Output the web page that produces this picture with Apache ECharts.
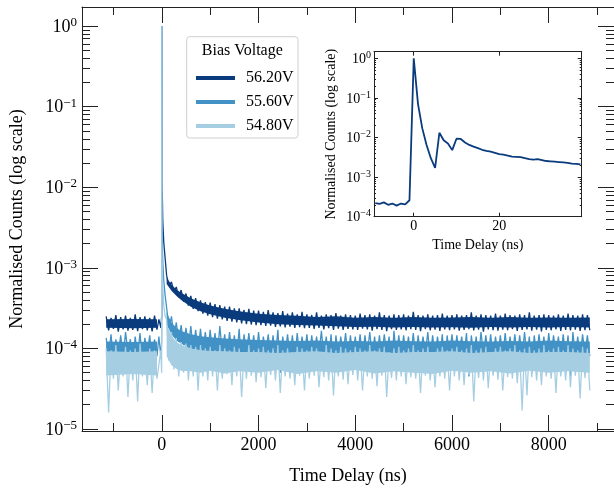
<!DOCTYPE html>
<html><head><meta charset="utf-8">
<script src="https://cdn.jsdelivr.net/npm/echarts@6/dist/echarts.min.js"></script>
<style>html,body{margin:0;padding:0;background:#fff}#c{width:614px;height:491px}</style>
</head><body><div id="c"></div>
<script>
// ---------------- DATA ----------------
const seriesNames = ['56.20V', '55.60V', '54.80V'];
const legendTitle = 'Bias Voltage';
const xTitle = 'Time Delay (ns)';
const yTitle = 'Normalised Counts (log scale)';

// tick values
const mainXMajor = [0, 2000, 4000, 6000, 8000];
const mainXMinor = [-1000, 1000, 3000, 5000, 7000, 9000];
const mainYMajor = [1e-5, 1e-4, 1e-3, 1e-2, 1e-1, 1];
const insetXMajor = [0, 20];
const insetYMajor = [1e-4, 1e-3, 1e-2, 1e-1, 1];

// Band values are given in units of 1e-4 (normalised counts)
const BAND_UNIT = 1e-4;

// Solid core of each noise band (where the trace fills the band completely)
const corePreT = [-1150, -600, -100];
const corePostT = [100, 200, 300, 400, 600, 800, 1000, 1300, 1600, 2000, 2400, 2800, 3200, 3600,
 4000, 4400, 4800, 5200, 5600, 6000, 6400, 6800, 7200, 7600, 8000, 8400, 8850];
const coreHiPre562 = [2.3, 2.32, 2.3];
const coreLoPre562 = [1.8, 1.78, 1.8];
const coreHiPost562 = [7.5, 6.2, 5.4, 4.9, 4.2, 3.75, 3.4, 3.1, 2.9, 2.7, 2.6, 2.55, 2.45, 2.5,
 2.4, 2.45, 2.4, 2.45, 2.4, 2.42, 2.45, 2.4, 2.45, 2.4, 2.42, 2.4, 2.42];
const coreLoPost562 = [6.3, 5.2, 4.5, 4.0, 3.3, 2.9, 2.65, 2.4, 2.25, 2.1, 2.0, 1.95, 1.92, 1.88,
 1.85, 1.86, 1.82, 1.84, 1.82, 1.83, 1.8, 1.84, 1.82, 1.85, 1.82, 1.84, 1.82];
const coreHiPre556 = [1.22, 1.2, 1.22];
const coreLoPre556 = [0.85, 0.85, 0.85];
const coreHiPost556 = [2.8, 2.1, 1.8, 1.65, 1.5, 1.42, 1.38, 1.33, 1.3, 1.27, 1.25, 1.24, 1.25, 1.22,
 1.24, 1.22, 1.25, 1.23, 1.22, 1.25, 1.23, 1.22, 1.24, 1.22, 1.25, 1.23, 1.22];
const coreLoPost556 = [2.0, 1.5, 1.25, 1.15, 1.0, 0.95, 0.9, 0.85, 0.85, 0.85, 0.85, 0.85, 0.85, 0.85,
 0.85, 0.85, 0.85, 0.85, 0.85, 0.85, 0.85, 0.85, 0.85, 0.85, 0.85, 0.85, 0.85];
const coreHiPre548 = [0.92, 0.9, 0.92];
const coreLoPre548 = [0.46, 0.48, 0.46];
const coreHiPost548 = [2.0, 1.45, 1.2, 1.1, 1.0, 0.95, 0.93, 0.92, 0.9, 0.9, 0.88, 0.9, 0.92, 0.88,
 0.9, 0.92, 0.88, 0.9, 0.9, 0.92, 0.88, 0.9, 0.92, 0.88, 0.9, 0.9, 0.88];
const coreLoPost548 = [0.8, 0.62, 0.56, 0.53, 0.52, 0.5, 0.53, 0.49, 0.52, 0.5, 0.54, 0.48, 0.52, 0.5,
 0.54, 0.49, 0.52, 0.5, 0.48, 0.53, 0.5, 0.52, 0.49, 0.53, 0.5, 0.52, 0.5];

// Noise extremes: each sample gives an upper value at t and a lower value at t+50 ns
const preT = [-1150, -1050, -950, -850, -750, -650, -550, -450, -350, -250, -150];
// 56.20V
const hiPre562 = [2.5,2.4,2.6,2.45,2.55,2.4,2.65,2.45,2.5,2.4,2.55];
const loPre562 = [1.68,1.75,1.62,1.72,1.66,1.7,1.64,1.74,1.68,1.63,1.71];
const hiPost562 = [8.0,6.7,5.8,5.3,4.8,4.5,4.2,3.95,3.75,
 3.7,3.55,3.45,3.3,3.3,3.15,3.15,3.0,3.1,2.95,
 2.95,2.85,3.0,2.8,2.75,2.9,2.7,2.8,2.65,2.85,
 2.65,2.6,2.8,2.55,2.65,2.6,2.75,2.55,2.65,2.6,
 2.55,2.7,2.6,2.65,2.55,2.8,2.6,2.55,2.65,2.6,
 2.65,2.55,2.85,2.6,2.55,2.65,2.55,2.6,2.7,2.55,
 2.6,2.65,2.55,2.6,2.8,2.55,2.65,2.6,2.55,2.7,
 2.55,2.7,2.6,2.55,2.65,2.6,2.8,2.55,2.6,2.65,
 2.6,2.55,2.65,2.55,2.7,2.6,2.55,2.65,2.6];
const loPost562 = [6.0,5.0,4.3,3.8,3.4,3.1,2.9,2.7,2.55,
 2.45,2.35,2.3,2.2,2.15,2.1,2.05,2.0,1.98,1.95,
 1.95,1.9,1.92,1.85,1.88,1.82,1.86,1.8,1.84,1.78,
 1.8,1.75,1.8,1.72,1.78,1.7,1.76,1.7,1.75,1.72,
 1.7,1.76,1.72,1.66,1.74,1.7,1.64,1.74,1.7,1.72,
 1.68,1.73,1.7,1.64,1.74,1.68,1.71,1.65,1.72,1.69,
 1.72,1.66,1.7,1.74,1.67,1.71,1.62,1.72,1.69,1.66,
 1.71,1.68,1.73,1.65,1.7,1.72,1.66,1.71,1.63,1.7,
 1.68,1.72,1.65,1.7,1.67,1.71,1.65,1.69,1.68];
// 55.60V
const hiPre556 = [1.35,1.5,1.3,1.45,1.6,1.3,1.4,1.55,1.35,1.45,1.3];
const loPre556 = [0.8,0.7,0.85,0.75,0.9,0.7,0.8,0.65,0.85,0.75,0.8];
const hiPost556 = [3.2,2.5,2.1,1.95,1.8,1.9,1.7,1.75,1.6,
 1.7,1.55,1.9,1.5,1.6,1.45,1.75,1.5,1.55,1.45,
 1.6,1.4,1.5,1.45,1.7,1.4,1.5,1.45,1.55,1.4,
 1.5,1.45,1.4,1.65,1.4,1.5,1.45,1.4,1.55,1.45,
 1.4,1.5,1.45,1.6,1.4,1.45,1.5,1.4,1.65,1.45,
 1.45,1.4,1.55,1.45,1.4,1.6,1.45,1.4,1.5,1.45,
 1.5,1.45,1.4,1.55,1.45,1.4,1.6,1.45,1.5,1.4,
 1.45,1.55,1.4,1.5,1.45,1.6,1.4,1.45,1.5,1.4,
 1.55,1.45,1.4,1.5,1.45,1.6,1.4,1.5,1.45];
const loPost556 = [1.8,1.4,1.2,1.1,1.0,0.95,0.9,0.9,0.85,
 0.85,0.8,0.9,0.75,0.85,0.8,0.55,0.85,0.8,0.75,
 0.8,0.85,0.75,0.8,0.5,0.85,0.8,0.75,0.8,0.85,
 0.75,0.8,0.85,0.8,0.75,0.55,0.8,0.85,0.75,0.8,
 0.8,0.75,0.85,0.8,0.75,0.8,0.85,0.5,0.8,0.75,
 0.85,0.8,0.75,0.8,0.85,0.75,0.8,0.8,0.55,0.8,
 0.75,0.85,0.8,0.45,0.8,0.75,0.85,0.8,0.75,0.8,
 0.8,0.75,0.85,0.8,0.75,0.8,0.5,0.85,0.8,0.75,
 0.8,0.85,0.75,0.8,0.45,0.8,0.75,0.85,0.8];
// 54.80V
const hiPre548 = [1.0,0.95,1.1,0.9,1.05,0.95,1.0,1.15,0.9,1.0,0.95];
const loPre548 = [0.16,0.42,0.3,0.45,0.25,0.4,0.22,0.45,0.35,0.28,0.42];
const hiPost548 = [2.3,1.6,1.35,1.2,1.15,1.1,1.05,1.1,1.0,
 1.05,0.95,1.1,1.0,0.95,1.05,1.0,0.9,1.1,0.95,
 1.0,1.05,0.95,1.0,1.1,0.95,1.0,0.9,1.05,1.0,
 0.95,1.05,1.0,0.9,1.1,1.0,0.95,1.05,1.0,0.95,
 1.05,1.0,0.95,1.1,0.95,1.0,1.05,0.9,1.0,1.05,
 0.95,1.0,1.1,0.95,1.0,1.05,0.9,1.0,1.05,0.95,
 1.0,1.05,0.95,1.0,1.1,0.95,1.0,1.05,0.9,1.0,
 1.05,0.95,1.0,1.1,0.95,1.0,1.05,0.95,1.0,1.1,
 0.95,1.0,1.05,0.95,1.1,1.0,0.95,1.05,1.0];
const loPost548 = [0.7,0.55,0.45,0.5,0.4,0.45,0.3,0.45,0.4,
 0.45,0.3,0.42,0.48,0.35,0.45,0.25,0.42,0.46,0.38,
 0.44,0.32,0.47,0.4,0.28,0.45,0.42,0.35,0.46,0.3,
 0.42,0.46,0.33,0.44,0.4,0.26,0.45,0.41,0.36,0.47,
 0.4,0.3,0.45,0.42,0.34,0.46,0.25,0.43,0.4,0.45,
 0.36,0.44,0.42,0.28,0.46,0.4,0.33,0.45,0.42,0.3,
 0.45,0.4,0.35,0.47,0.22,0.43,0.4,0.32,0.46,0.41,
 0.3,0.44,0.42,0.37,0.17,0.26,0.44,0.4,0.35,0.45,
 0.42,0.28,0.45,0.4,0.33,0.46,0.24,0.43,0.3];

// around the laser pulse (absolute normalised counts)
const peakT = [-60, -20, -3, 0, 2, 5, 10, 20, 40, 70];
const peak562 = [2.3e-4, 1.8e-4, 2.5e-4, 1.0, 1.6e-2, 1.7e-3, 9e-3, 3.8e-3, 2.1e-3, 1.3e-3];
const peak556 = [1.4e-4, 0.8e-4, 1.2e-4, 1.0, 1.2e-2, 3e-3, 2e-3, 1.2e-3, 7e-4, 4.5e-4];
const peak548 = [0.4e-4, 0.95e-4, 0.5e-4, 1.0, 8e-3, 1.5e-3, 1e-3, 6e-4, 3.5e-4, 2.5e-4];

// inset: 56.20V, 1 ns bins
const insetT = [-9,-8,-7,-6,-5,-4,-3,-2,-1,0,1,2,3,4,5,6,7,8,9,10,11,12,13,14,15,16,17,18,19,20,
 21,22,23,24,25,26,27,28,29,30,31,32,33,34,35,36,37,38,39];
const inset562 = [2.2e-4,2.1e-4,2.3e-4,2.0e-4,2.15e-4,1.9e-4,2.15e-4,2.05e-4,2.6e-4,1.0,
 7.0e-2,1.7e-2,6.5e-3,3.0e-3,1.7e-3,1.32e-2,8.5e-3,7.1e-3,4.8e-3,9.3e-3,
 9.2e-3,7.5e-3,6.5e-3,5.9e-3,5.4e-3,4.9e-3,4.6e-3,4.4e-3,4.1e-3,3.8e-3,
 3.7e-3,3.5e-3,3.3e-3,3.25e-3,3.2e-3,3.0e-3,2.85e-3,2.75e-3,2.85e-3,2.7e-3,
 2.55e-3,2.5e-3,2.45e-3,2.4e-3,2.35e-3,2.3e-3,2.2e-3,2.15e-3,2.1e-3];

// ---------------- BUILD ----------------
const colors = ['#0a3b7d', '#4292c6', '#a6cee3'];
const FONT = "'Liberation Serif', 'Times New Roman', serif";
const AX = '#222';

const postT = [];
for (let t = 100; t <= 8800; t += 100) postT.push(t);

function band(hiPre, loPre, pk, hiPost, loPost) {
  const d = [];
  preT.forEach((t, i) => { d.push([t, hiPre[i] * BAND_UNIT]); d.push([t + 50, loPre[i] * BAND_UNIT]); });
  peakT.forEach((t, i) => d.push([t, pk[i]]));
  postT.forEach((t, i) => { d.push([t, hiPost[i] * BAND_UNIT]); d.push([t + 50, loPost[i] * BAND_UNIT]); });
  return d;
}
const lines = [
  band(hiPre562, loPre562, peak562, hiPost562, loPost562),
  band(hiPre556, loPre556, peak556, hiPost556, loPost556),
  band(hiPre548, loPre548, peak548, hiPost548, loPost548)
];
const cores = [
  [coreHiPre562, coreLoPre562, coreHiPost562, coreLoPost562],
  [coreHiPre556, coreLoPre556, coreHiPost556, coreLoPost556],
  [coreHiPre548, coreLoPre548, coreHiPost548, coreLoPost548]
];

function minorLog(lo, hi) {
  const v = [];
  for (let e = lo; e <= hi; e++) for (let k = 2; k <= 9; k++) v.push(k * Math.pow(10, e));
  return v;
}
function supLabel(v) {
  const e = Math.round(Math.log10(v));
  return '{b|10}{s|' + (e < 0 ? '\u2212' + (-e) : String(e)) + '}';
}
function rich(bs, ss) {
  return {
    b: { fontSize: bs, fontFamily: FONT, color: '#000', lineHeight: bs + 2, padding: [Math.round(bs * 0.33), 0, 0, 0], verticalAlign: 'bottom' },
    s: { fontSize: ss, fontFamily: FONT, color: '#000', lineHeight: Math.round(bs * 0.9), verticalAlign: 'top' }
  };
}
function axisBase(o) {
  const base = { splitLine: { show: false }, axisTick: { show: false }, axisLabel: { show: false }, silent: true };
  const r = Object.assign(base, o);
  r.axisLine = Object.assign({ show: false, lineStyle: { color: AX, width: 1 } }, o.axisLine || {}, { onZero: false });
  return r;
}
function tick(len, vals) {
  return { show: true, inside: true, length: len, customValues: vals, lineStyle: { color: AX, width: 1 } };
}
const plainNum = v => String(v);

const XMIN = -1650, XMAX = 9350, YMIN = 0.944e-5, YMAX = 1.73;
const IXMIN = -9.3, IXMAX = 39.3, IYMIN = 1e-4, IYMAX = 1.47;

const xAxes = [
  axisBase({ gridIndex: 0, type: 'value', position: 'bottom', min: XMIN, max: XMAX,
    axisLine: { show: true }, axisTick: tick(16, mainXMajor),
    axisLabel: { show: true, customValues: mainXMajor, margin: 5, fontSize: 18, fontFamily: FONT, color: '#000', formatter: plainNum },
    name: xTitle, nameLocation: 'middle', nameGap: 36, nameTextStyle: { fontSize: 18, fontFamily: FONT, color: '#000' } }),
  axisBase({ gridIndex: 0, type: 'value', position: 'bottom', min: XMIN, max: XMAX, axisTick: tick(8, mainXMinor) }),
  axisBase({ gridIndex: 0, type: 'value', position: 'top', min: XMIN, max: XMAX, axisLine: { show: true }, axisTick: tick(16, mainXMajor) }),
  axisBase({ gridIndex: 0, type: 'value', position: 'top', min: XMIN, max: XMAX, axisTick: tick(8, mainXMinor) }),
  axisBase({ gridIndex: 1, type: 'value', position: 'bottom', min: IXMIN, max: IXMAX,
    axisLine: { show: true }, axisTick: tick(4, insetXMajor),
    axisLabel: { show: true, customValues: insetXMajor, margin: 3, fontSize: 14, fontFamily: FONT, color: '#000', formatter: plainNum },
    name: xTitle, nameLocation: 'middle', nameGap: 22, nameTextStyle: { fontSize: 14, fontFamily: FONT, color: '#000' } }),
  axisBase({ gridIndex: 1, type: 'value', position: 'top', min: IXMIN, max: IXMAX, axisLine: { show: true }, axisTick: tick(4, insetXMajor) })
];
const yAxes = [
  axisBase({ gridIndex: 0, type: 'log', position: 'left', min: YMIN, max: YMAX,
    axisLine: { show: true }, axisTick: tick(16, mainYMajor),
    axisLabel: { show: true, customValues: mainYMajor, margin: 5, formatter: supLabel, rich: rich(18, 13) },
    name: yTitle, nameLocation: 'middle', nameGap: 56, nameTextStyle: { fontSize: 18, fontFamily: FONT, color: '#000' } }),
  axisBase({ gridIndex: 0, type: 'log', position: 'left', min: YMIN, max: YMAX, axisTick: tick(8, minorLog(-5, -1)) }),
  axisBase({ gridIndex: 0, type: 'log', position: 'right', min: YMIN, max: YMAX, axisTick: tick(16, mainYMajor) }),
  axisBase({ gridIndex: 0, type: 'log', position: 'right', min: YMIN, max: YMAX, axisTick: tick(8, minorLog(-5, -1)) }),
  axisBase({ gridIndex: 1, type: 'log', position: 'left', min: IYMIN, max: IYMAX,
    axisLine: { show: true }, axisTick: tick(4, insetYMajor),
    axisLabel: { show: true, customValues: insetYMajor, margin: 3, formatter: supLabel, rich: rich(14, 10) },
    name: yTitle, nameLocation: 'middle', nameGap: 36, nameTextStyle: { fontSize: 14, fontFamily: FONT, color: '#000' } }),
  axisBase({ gridIndex: 1, type: 'log', position: 'left', min: IYMIN, max: IYMAX, axisTick: tick(2, minorLog(-4, -1)) }),
  axisBase({ gridIndex: 1, type: 'log', position: 'right', min: IYMIN, max: IYMAX, axisLine: { show: true }, axisTick: tick(4, insetYMajor) }),
  axisBase({ gridIndex: 1, type: 'log', position: 'right', min: IYMIN, max: IYMAX, axisTick: tick(2, minorLog(-4, -1)) })
];

function corePolygon(api, tArr, hiArr, loArr) {
  const pts = [];
  tArr.forEach((t, i) => pts.push(api.coord([t, hiArr[i] * BAND_UNIT])));
  for (let i = tArr.length - 1; i >= 0; i--) pts.push(api.coord([tArr[i], loArr[i] * BAND_UNIT]));
  return pts;
}

const series = [];
lines.forEach((d, i) => {
  const c = cores[i];
  series.push({
    type: 'custom', name: 'core' + i, xAxisIndex: 0, yAxisIndex: 0, silent: true, animation: false,
    clip: true, z: 2 + 2 * i,
    data: [[0, 1e-4]],
    encode: { x: 0, y: 1 },
    renderItem: (params, api) => ({
      type: 'group',
      children: [
        { type: 'polygon', shape: { points: corePolygon(api, corePreT, c[0], c[1]) }, style: { fill: colors[i] } },
        { type: 'polygon', shape: { points: corePolygon(api, corePostT, c[2], c[3]) }, style: { fill: colors[i] } }
      ]
    })
  });
  series.push({
    type: 'line', name: seriesNames[i], xAxisIndex: 0, yAxisIndex: 0, data: d,
    showSymbol: false, symbol: 'none', animation: false, silent: true,
    lineStyle: { color: colors[i], width: 1.3 }, itemStyle: { color: colors[i] }, z: 3 + 2 * i
  });
});
series.push({
  type: 'line', name: 'inset', xAxisIndex: 4, yAxisIndex: 4,
  data: insetT.map((t, i) => [t, inset562[i]]),
  showSymbol: false, symbol: 'none', animation: false, silent: true,
  lineStyle: { color: colors[0], width: 1.8 }, z: 9
});

const chart = echarts.init(document.getElementById('c'), null, { renderer: 'canvas' });
chart.setOption({
  backgroundColor: '#fff',
  animation: false,
  textStyle: { fontFamily: FONT },
  grid: [
    { left: 81.7, top: 7, right: -1.5, bottom: 60 },
    { left: 374, top: 51.7, right: 32.3, bottom: 274.3 }
  ],
  xAxis: xAxes,
  yAxis: yAxes,
  legend: {
    data: seriesNames, orient: 'vertical', left: 191, top: 64, z: 12,
    itemWidth: 39, itemHeight: 4, icon: 'rect', itemGap: 6,
    textStyle: { fontSize: 16, fontFamily: FONT, color: '#000', lineHeight: 18, padding: [0, 0, 0, 6] },
    selectedMode: false
  },
  graphic: [
    { type: 'rect', z: 10, shape: { x: 186.7, y: 36.7, width: 111.3, height: 101.3, r: 3 },
      style: { fill: 'rgba(255,255,255,0.85)', stroke: '#cfcfcf', lineWidth: 1 } },
    { type: 'text', z: 11, x: 242.3, y: 50.7,
      style: { text: legendTitle, fontSize: 16, fontFamily: FONT, fill: '#000', align: 'center', verticalAlign: 'middle', textAlign: 'center', textVerticalAlign: 'middle' } }
  ],
  series: series
});
</script></body></html>
